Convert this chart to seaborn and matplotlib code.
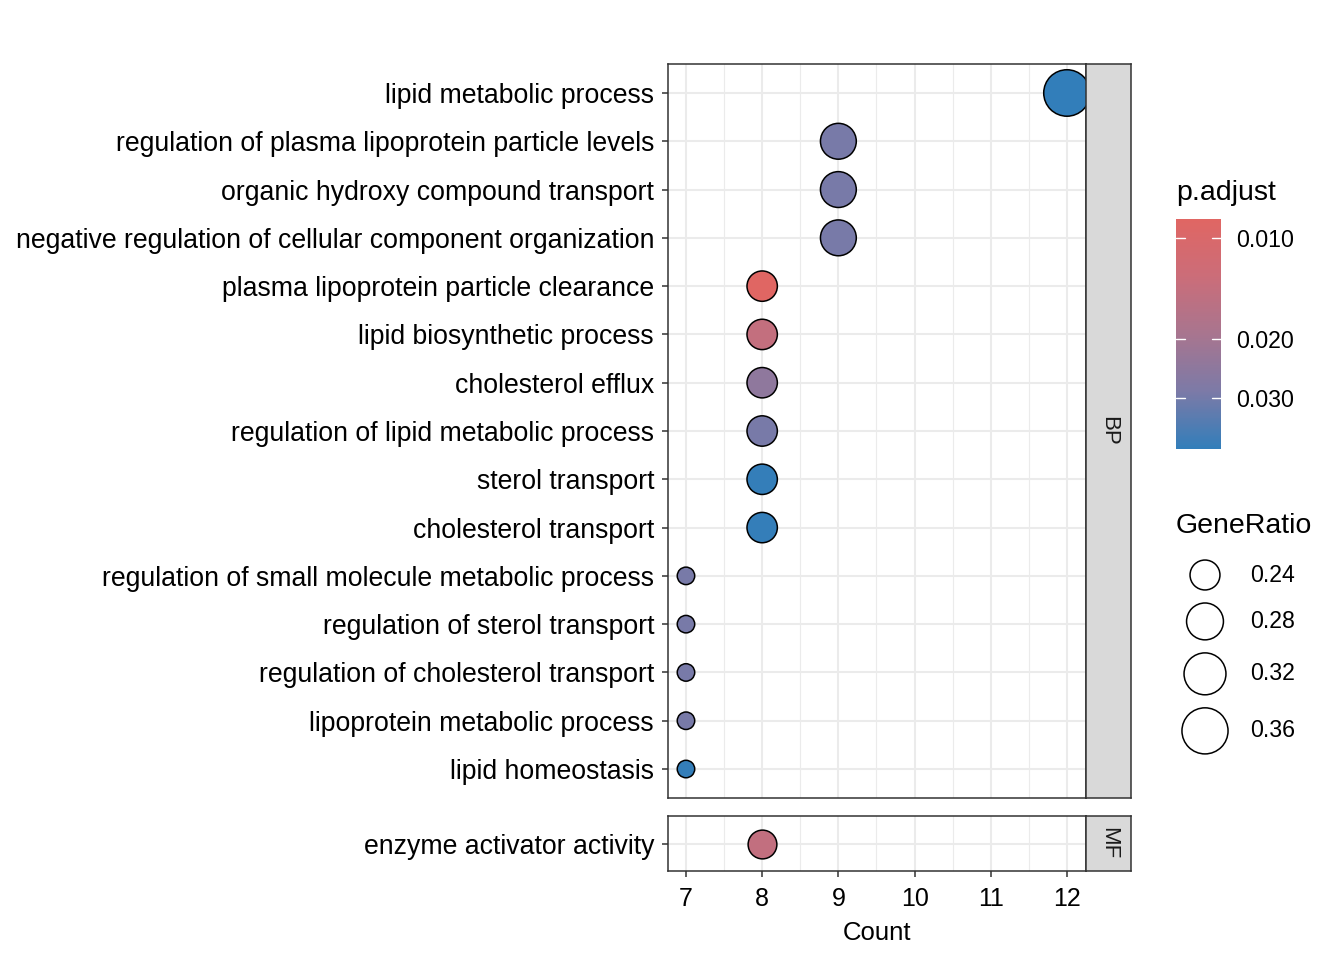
import numpy as np
import pandas as pd
import matplotlib
matplotlib.use("Agg")
import matplotlib.pyplot as plt
from matplotlib.colors import LinearSegmentedColormap, LogNorm
from matplotlib.cm import ScalarMappable
from matplotlib.ticker import NullLocator, NullFormatter
import seaborn as sns

# -------------------------
# data
# -------------------------
bp_terms = [
    "lipid metabolic process",
    "regulation of plasma lipoprotein particle levels",
    "organic hydroxy compound transport",
    "negative regulation of cellular component organization",
    "plasma lipoprotein particle clearance",
    "lipid biosynthetic process",
    "cholesterol efflux",
    "regulation of lipid metabolic process",
    "sterol transport",
    "cholesterol transport",
    "regulation of small molecule metabolic process",
    "regulation of sterol transport",
    "regulation of cholesterol transport",
    "lipoprotein metabolic process",
    "lipid homeostasis",
]
bp_count = [12, 9, 9, 9, 8, 8, 8, 8, 8, 8, 7, 7, 7, 7, 7]
bp_ratio = [0.364, 0.273, 0.273, 0.273, 0.242, 0.242, 0.242, 0.242, 0.242,
            0.242, 0.212, 0.212, 0.212, 0.212, 0.212]
bp_padj = [0.0426, 0.0294, 0.0294, 0.0294, 0.0088, 0.0143, 0.0242, 0.0293,
           0.0419, 0.0419, 0.0294, 0.0294, 0.0294, 0.0294, 0.0419]

mf_terms = ["enzyme activator activity"]
mf_count = [8]
mf_ratio = [0.235]
mf_padj = [0.0145]

size_breaks = [0.24, 0.28, 0.32, 0.36]
padj_breaks = [0.010, 0.020, 0.030]
padj_labels = ["0.010", "0.020", "0.030"]

bp = pd.DataFrame({"Description": bp_terms, "Count": bp_count,
                   "GeneRatio": bp_ratio, "p.adjust": bp_padj})
mf = pd.DataFrame({"Description": mf_terms, "Count": mf_count,
                   "GeneRatio": mf_ratio, "p.adjust": mf_padj})

# -------------------------
# styling
# -------------------------
sns.set_style("white")
plt.rcParams["font.family"] = ["Liberation Sans", "DejaVu Sans"]
plt.rcParams["text.color"] = "black"
plt.rcParams["axes.labelcolor"] = "black"

W, H = 1344, 960
PT = 100 / 72  # px per point
EDGE = 1.1

# red -> blue gradient (Lab-like midpoints)
cmap = LinearSegmentedColormap.from_list(
    "padj",
    [(0.0, "#e06663"), (0.25, "#cb6d79"), (0.5, "#a8758f"),
     (0.75, "#7c7aa7"), (1.0, "#327eba")])
all_p = bp_padj + mf_padj
norm = LogNorm(vmin=min(all_p), vmax=max(all_p))

all_r = bp_ratio + mf_ratio
rmin, rmax = min(all_r), max(all_r)


def diam_px(r):
    n = np.clip((r - rmin) / (rmax - rmin), 0, 1)
    return 19 + 29 * np.sqrt(n)


def area(r):
    d = diam_px(r) / PT - EDGE
    return d ** 2


size_map = {r: area(r) for r in set(all_r)}

fig = plt.figure(figsize=(W / 100, H / 100), dpi=100)


def px_axes(x0, y0, x1, y1):
    return fig.add_axes([x0 / W, 1 - y1 / H, (x1 - x0) / W, (y1 - y0) / H])


ax_bp = px_axes(668, 64, 1086, 798)
ax_mf = px_axes(668, 816, 1086, 871)

for ax, df in [(ax_bp, bp), (ax_mf, mf)]:
    ax.set_axisbelow(True)
    sns.scatterplot(data=df, x="Count", y="Description", hue="p.adjust",
                    size="GeneRatio", sizes=size_map, palette=cmap,
                    hue_norm=norm, edgecolor="black", linewidth=EDGE,
                    legend=False, ax=ax, zorder=3)
    n = len(df)
    ax.set_ylim(n - 1 + 0.6, -0.6)
    ax.set_xlim(6.764, 12.25)
    ax.set_xticks(range(7, 13))
    ax.set_xticks(np.arange(7.5, 12.5, 1), minor=True)
    ax.set_yticks(range(n))
    ax.set_yticklabels(df["Description"])
    ax.grid(which="major", color="#EBEBEB", linewidth=1.5)
    ax.grid(which="minor", axis="x", color="#EBEBEB", linewidth=0.8)
    for s in ax.spines.values():
        s.set_visible(True)
        s.set_color("#333333")
        s.set_linewidth(1.1)
    ax.tick_params(axis="y", which="major", left=True, length=4.5, width=1.1,
                   color="#333333", pad=5.5, labelsize=19.2, labelcolor="black")
    ax.tick_params(axis="x", which="minor", bottom=False, length=0)
    ax.set_ylabel("")
    ax.set_xlabel("")

ax_bp.tick_params(axis="x", which="major", bottom=False, length=0,
                  labelbottom=False)
ax_mf.tick_params(axis="x", which="major", bottom=True, length=4.5,
                  width=1.1, color="#333333", pad=7, labelsize=18,
                  labelcolor="black")
ax_mf.set_xlabel("Count", fontsize=18.5, labelpad=7, color="black")

# facet strips
for (y0, y1, lab) in [(64, 798, "BP"), (816, 871, "MF")]:
    st = px_axes(1086, y0, 1131, y1)
    st.set_facecolor("#D9D9D9")
    st.set_xticks([])
    st.set_yticks([])
    for s in st.spines.values():
        s.set_visible(True)
        s.set_color("#333333")
        s.set_linewidth(1.1)
    st.text(0.5, 0.5, lab, rotation=-90, ha="center", va="center",
            fontsize=16, color="#1A1A1A", transform=st.transAxes)

# colour bar
cax = px_axes(1176, 219, 1221, 449)
cb = fig.colorbar(ScalarMappable(norm=norm, cmap=cmap), cax=cax)
cb.outline.set_visible(False)
cax.invert_yaxis()
cax.yaxis.set_minor_locator(NullLocator())
cax.yaxis.set_minor_formatter(NullFormatter())
cb.set_ticks(padj_breaks)
cb.set_ticklabels(padj_labels)
cax.tick_params(length=0, pad=11, labelsize=16.7, labelcolor="black")
for v in padj_breaks:
    cax.axhline(v, xmin=0, xmax=0.2, color="white", linewidth=1)
    cax.axhline(v, xmin=0.8, xmax=1, color="white", linewidth=1)
fig.text(1176 / W, 1 - 200 / H, "p.adjust", fontsize=20.5, va="baseline",
         color="black")

# size legend
fig.text(1176 / W, 1 - 533 / H, "GeneRatio", fontsize=20.5, va="baseline",
         color="black")
lax = px_axes(1160, 540, 1344, 780)
lax.set_xlim(1160, 1344)
lax.set_ylim(780, 540)
lax.axis("off")
d = np.array([diam_px(r) for r in size_breaks])
h = d + 11.5
centres = 575 + np.concatenate([[0], np.cumsum((h[:-1] + h[1:]) / 2)])
lax.scatter([1205] * len(size_breaks), centres,
            s=[area(r) for r in size_breaks], facecolor="white",
            edgecolor="black", linewidth=EDGE, clip_on=False)
for c, r in zip(centres, size_breaks):
    lax.text(1250, c, f"{r:.2f}", fontsize=16.7, va="center", ha="left",
             color="black")

fig.savefig("out.png", dpi=100, facecolor="white")
